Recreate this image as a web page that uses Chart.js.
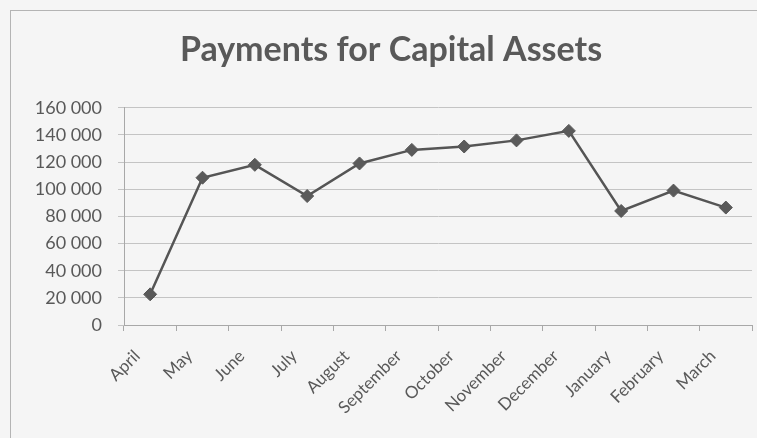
<!DOCTYPE html>
<html>
<head>
<meta charset="utf-8">
<script src="https://cdn.jsdelivr.net/npm/chart.js@4/dist/chart.umd.min.js"></script>
<style>
  html, body { margin: 0; padding: 0; background: #f5f5f5; overflow: hidden; width: 757px; height: 438px; }
  #frame { position: absolute; left: 10px; top: 10px; width: 800px; height: 500px; border: 1px solid #b4b4b4; box-sizing: border-box; }
  #wrap { position: absolute; left: 0; top: 0; width: 782px; height: 438px; }
</style>
</head>
<body>
<div id="frame"></div>
<div id="wrap"><canvas id="c" width="782" height="438"></canvas></div>
<script>
const titleText = "Payments for Capital Assets";
const months = ["April", "May", "June", "July", "August", "September", "October", "November", "December", "January", "February", "March"];
const payments = [22600, 108500, 118000, 95000, 119000, 129000, 131500, 136000, 143000, 84000, 99000, 86500];
const yMin = 0, yMax = 160000, yStep = 20000;

function fmt(v) {
  return String(v).replace(/\B(?=(\d{3})+(?!\d))/g, " ");
}

const txt = "#595959";
new Chart(document.getElementById("c"), {
  type: "line",
  data: {
    labels: months,
    datasets: [{
      data: payments,
      borderColor: "#555555",
      borderWidth: 2.5,
      backgroundColor: "#555555",
      pointStyle: "rectRot",
      pointRadius: 6.5,
      pointBorderWidth: 1,
      pointBackgroundColor: "#5a5a5a",
      pointBorderColor: "#555555",
      tension: 0,
      fill: false
    }]
  },
  options: {
    responsive: false,
    animation: false,
    devicePixelRatio: 1,
    layout: { padding: { left: 30, right: 30, top: 10, bottom: 0 } },
    plugins: {
      legend: { display: false },
      tooltip: { enabled: false },
      title: {
        display: true,
        text: titleText,
        color: txt,
        font: { family: "Lato", size: 34, weight: "bold" },
        padding: { top: 20, bottom: 37 }
      }
    },
    scales: {
      x: {
        offset: true,
        grid: { display: true, drawOnChartArea: false, drawTicks: true, tickLength: 6, offset: true, color: "#a8a8a8" },
        border: { display: true, color: "#a8a8a8", width: 1 },
        ticks: {
          color: txt,
          font: { family: "Lato", size: 17 },
          maxRotation: 45, minRotation: 45,
          autoSkip: false,
          padding: 15,
          labelOffset: -13
        },
        afterFit: s => { s.height = 113; }
      },
      y: {
        min: yMin, max: yMax,
        grid: { color: "#c4c4c4", tickLength: 6, drawTicks: true },
        border: { display: true, color: "#a8a8a8", width: 1 },
        ticks: {
          stepSize: yStep,
          color: txt,
          font: { family: "Lato", size: 18 },
          padding: 16,
          callback: v => fmt(v)
        },
        afterFit: s => { s.width = 94; }
      }
    }
  }
});
</script>
</body>
</html>
